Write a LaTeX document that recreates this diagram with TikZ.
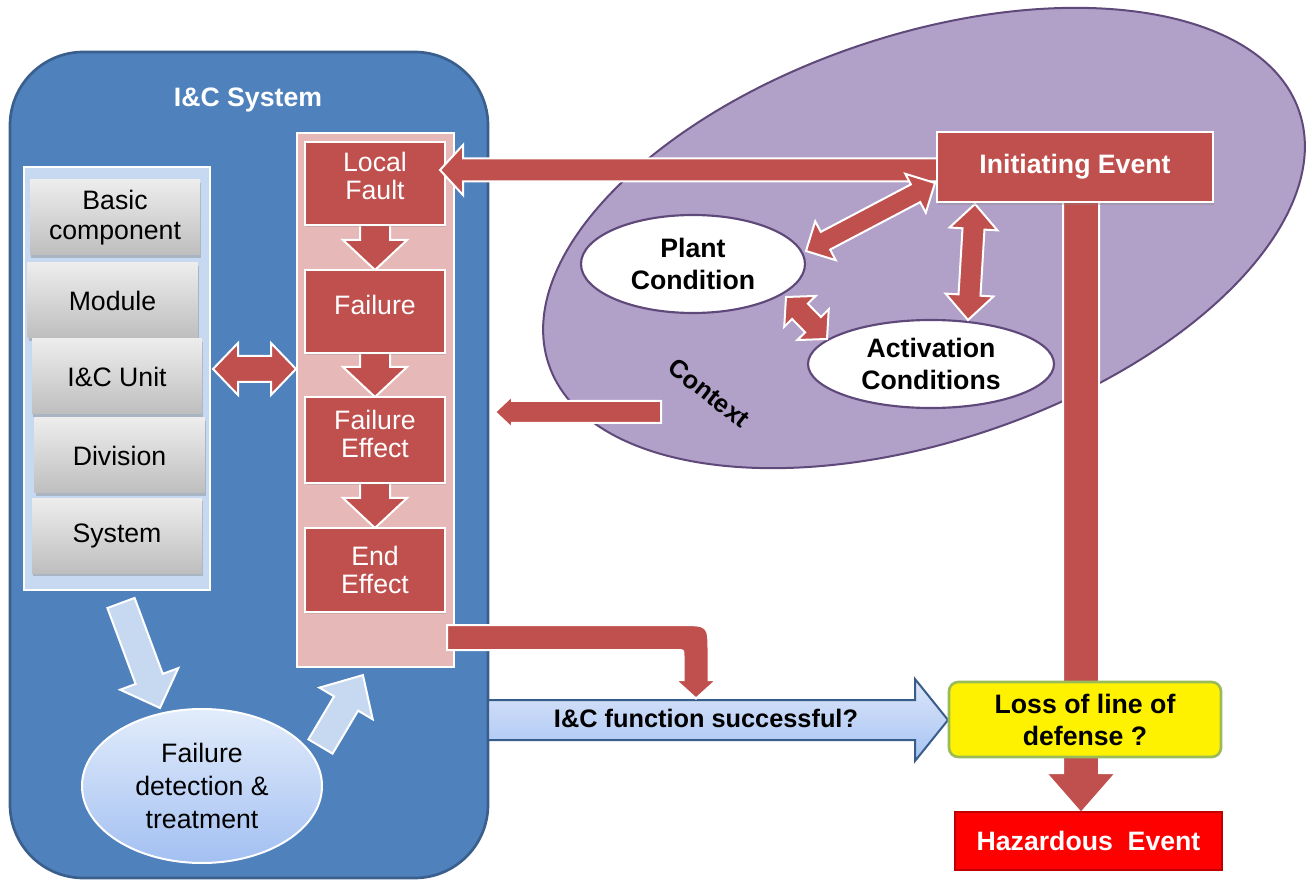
\documentclass[tikz,border=0pt]{standalone}
\usepackage{fontspec}
\setmainfont{Liberation Sans}
\usetikzlibrary{shapes.geometric,shadows}
\definecolor{blueF}{HTML}{4F81BD}
\definecolor{blueD}{HTML}{3A5F8C}
\definecolor{panelF}{HTML}{C6D9F1}
\definecolor{grayT}{HTML}{EDEDED}
\definecolor{grayB}{HTML}{BEBEBE}
\definecolor{pinkF}{HTML}{E6B9B8}
\definecolor{redA}{HTML}{C0504D}
\definecolor{purpF}{HTML}{B1A0C7}
\definecolor{purpD}{HTML}{5F497A}
\definecolor{yelB}{HTML}{9BBB59}
\definecolor{hazD}{HTML}{C00000}
\definecolor{baT}{HTML}{DCE6F8}
\definecolor{baB}{HTML}{A6C3F4}
\definecolor{baD}{HTML}{385D8A}
\definecolor{elT}{HTML}{E2ECFB}
\definecolor{elB}{HTML}{A3C0F2}

% straight block arrow: style, x1, y1, x2, y2, shaft half width, head half width, head length
\newcommand\rksarrow[8]{%
  \pgfmathsetmacro\rkang{atan2((#3)-(#5),(#4)-(#2))}%
  \pgfmathsetmacro\rklen{veclen((#4)-(#2),(#5)-(#3))}%
  \pgfmathsetmacro\rkbase{\rklen-(#8)}%
  \begin{scope}[shift={(#2,#3)},rotate=\rkang]
    \path[#1] (0,-#6) -- (\rkbase,-#6) -- (\rkbase,-#7) -- (\rklen,0) -- (\rkbase,#7) -- (\rkbase,#6) -- (0,#6) -- cycle;
  \end{scope}}
% double block arrow
\newcommand\rkdarrow[8]{%
  \pgfmathsetmacro\rkang{atan2((#3)-(#5),(#4)-(#2))}%
  \pgfmathsetmacro\rklen{veclen((#4)-(#2),(#5)-(#3))}%
  \pgfmathsetmacro\rkbase{\rklen-(#8)}%
  \begin{scope}[shift={(#2,#3)},rotate=\rkang]
    \path[#1] (0,0) -- (#8,-#7) -- (#8,-#6) -- (\rkbase,-#6) -- (\rkbase,-#7) -- (\rklen,0) -- (\rkbase,#7) -- (\rkbase,#6) -- (#8,#6) -- (#8,#7) -- cycle;
  \end{scope}}

\begin{document}
\begin{tikzpicture}[x=0.75pt,y=-0.75pt,
  txt/.style={font=\fontsize{20}{22.5}\selectfont, align=center},
  btxt/.style={font=\bfseries\fontsize{20}{24}\selectfont, align=center},
  graybox/.style={txt, top color=grayT, bottom color=grayB, minimum width=127.5pt, minimum height=56.25pt, inner sep=0pt,
     drop shadow={opacity=0.4, shadow xshift=1pt, shadow yshift=-2pt}},
  redbox/.style={fill=redA, draw=white, line width=1.5pt, minimum width=105pt, inner sep=0pt,
     drop shadow={opacity=0.25, shadow xshift=1pt, shadow yshift=-1.5pt}},
  redtxt/.style={txt, text=white, font=\fontsize{20}{21.5}\selectfont},
  redarrow/.style={fill=redA, draw=white, line width=1.5pt, line join=miter},
  lbarrow/.style={fill=panelF, draw=white, line width=1.5pt, line join=miter},
  bluearrow/.style={top color=baT, bottom color=baB, draw=baD, line width=1.5pt, line join=miter},
  condell/.style={btxt, ellipse, fill=white, draw=purpD, line width=1.6pt, inner sep=0pt}
]
\useasboundingbox (0,0) rectangle (1311,880);

% context ellipse
\node[ellipse, draw=purpD, fill=purpF, line width=1.5pt, minimum width=594pt, minimum height=304.5pt, inner sep=0pt, rotate=18.6] (ctx) at (924,238) {};

% I&C system box
\node[draw=blueD, fill=blueF, line width=2pt, rounded corners=55pt, minimum width=358.5pt, minimum height=619.5pt] (ic) at (249,465) {};
\node[btxt, text=white] (ictitle) at (248,100) {I\&C System};

% left panel
\node[draw=white, fill=panelF, line width=2pt, minimum width=139.5pt, minimum height=317.25pt, inner sep=0pt] (panel) at (117,378.5) {};
\node[graybox] (basic) at (115,217.5) {Basic\\component};
\node[graybox] (module) at (112.5,300.5) {Module};
\node[graybox] (unit) at (117,376.5) {I\&C Unit};
\node[graybox] (division) at (119.5,455.5) {Division};
\node[graybox] (system) at (117,536) {System};

% pink column
\node[draw=white, fill=pinkF, line width=2pt, minimum width=117.75pt, minimum height=400.5pt, inner sep=0pt] (col) at (375.5,400) {};

% down arrows in column
\rksarrow{redarrow}{375}{215}{375}{270}{15}{32}{30}
\rksarrow{redarrow}{375}{343}{375}{397}{15}{32}{30}
\rksarrow{redarrow}{375}{473}{375}{528}{15}{32}{30}

% red boxes
\node[redbox, minimum height=62.25pt] (lf) at (375,183.5) {};
\node[redtxt] (lft) at (375,176) {Local\\Fault};
\node[redbox, minimum height=62.25pt] (fail) at (375,311.5) {};
\node[redtxt] (failt) at (375,305) {Failure};
\node[redbox, minimum height=64.5pt] (fe) at (375,440) {};
\node[redtxt] (fet) at (375,434) {Failure\\Effect};
\node[redbox, minimum height=63pt] (ee) at (375,570) {};
\node[redtxt] (eet) at (375,570) {End\\Effect};

% panel <-> column
\rkdarrow{redarrow}{213}{369}{296}{369}{13}{26}{25}

% light blue arrows
\rksarrow{lbarrow}{121}{603}{160}{708}{14.5}{31}{31}
\rksarrow{lbarrow}{320.5}{746.5}{363}{675}{14}{31}{33}

% failure detection ellipse
\node[txt, font=\fontsize{20}{24.5}\selectfont, ellipse, top color=elT, bottom color=elB, draw=white, line width=1.5pt, minimum width=180pt, minimum height=115.5pt, inner sep=0pt] (fdt) at (202,786) {Failure\\detection \&\\treatment};

% blue arrow
\rksarrow{bluearrow}{488}{720}{948}{720}{20}{41}{33}
\node[btxt, font=\bfseries\fontsize{19}{22}\selectfont] (succ) at (706,718) {I\&C function successful?};

% bent arrow from column to blue arrow
\path[redarrow] (447,625) -- (680,625) .. controls (708.5,625) .. (708.5,652) -- (708.5,680) -- (716.5,680) -- (696,698.5) -- (675.5,680) -- (683.5,680) -- (683.5,656) .. controls (683.5,650) .. (677,650) -- (447,650) -- cycle;

% arrows from initiating event / context
\rksarrow{redarrow}{937}{170}{440}{170}{11.5}{25}{23}
\rksarrow{redarrow}{661}{412}{495}{412}{11}{16}{17}
\rksarrow{redarrow}{1081}{195}{1081}{813}{18}{35}{40}

% condition ellipses
\node[condell, minimum width=168pt, minimum height=73.5pt] (plant) at (693,264) {Plant\\Condition};
\node[condell, minimum width=184.5pt, minimum height=66pt] (act) at (931,364) {Activation\\Conditions};

\rkdarrow{redarrow}{935}{183}{806}{251}{10}{22}{22}
\rkdarrow{redarrow}{975}{204}{968}{320}{11}{24}{25}
\rkdarrow{redarrow}{786}{297}{827}{339}{11}{22}{20}

% initiating event box
\node[btxt, text=white, fill=redA, draw=white, line width=1.5pt, minimum width=207pt, minimum height=52.5pt, inner sep=0pt,
   drop shadow={opacity=0.3, shadow xshift=1pt, shadow yshift=-2pt}] (ie) at (1075,167) {Initiating Event};

% loss of line of defense
\node[btxt, fill=yellow, draw=yelB, line width=2pt, rounded corners=7pt, minimum width=204pt, minimum height=56.25pt, inner sep=0pt] (loss) at (1085,719.5) {Loss of line of\\defense ?};

% hazardous event
\node[btxt, text=white, fill=red, draw=hazD, line width=1.5pt, minimum width=200.25pt, minimum height=43.5pt, inner sep=0pt] (haz) at (1088.5,841) {Hazardous\ \ Event};

% context label
\node[font=\bfseries\fontsize{19}{22}\selectfont, rotate=-38] (ctxlabel) at (709,393) {Context};
\end{tikzpicture}
\end{document}
